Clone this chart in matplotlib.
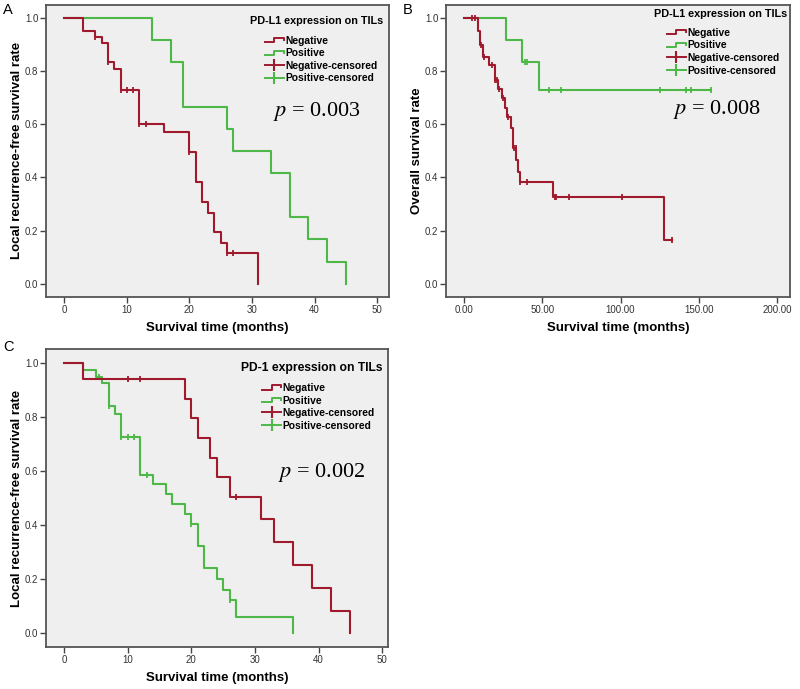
import matplotlib
matplotlib.use('Agg')
import numpy as np
import matplotlib.pyplot as plt
from matplotlib.lines import Line2D
from matplotlib.legend_handler import HandlerBase
from matplotlib.ticker import FormatStrFormatter

plt.rcParams['font.family'] = ['Liberation Sans', 'DejaVu Sans']
plt.rcParams['mathtext.fontset'] = 'stix'

RED = '#A01A2E'
GREEN = '#4DB848'
BG = '#EFEFEF'

# A: PD-L1 on TILs, local recurrence-free survival
a_neg_t = [0, 3, 5, 6, 7, 8, 9, 12, 16, 20, 21, 22, 23, 24, 25, 26, 31]
a_neg_s = [1.0, 0.952, 0.928, 0.905, 0.836, 0.808, 0.730, 0.602, 0.570, 0.497,
           0.381, 0.308, 0.268, 0.193, 0.153, 0.114, 0.0]
a_neg_c = [5, 7, 9, 10, 11, 12, 13, 20, 26, 27]
a_pos_t = [0, 14, 17, 19, 26, 27, 33, 36, 39, 42, 45]
a_pos_s = [1.0, 0.917, 0.833, 0.667, 0.583, 0.5, 0.417, 0.25, 0.167, 0.083, 0.0]
a_pos_c = []

# B: PD-L1 on TILs, overall survival
b_neg_t = [0, 9, 10, 12, 16, 19.5, 22, 24, 26.5, 27.5, 30, 31, 33.5, 34.5, 35.5, 57, 128]
b_neg_s = [1.0, 0.95, 0.90, 0.853, 0.824, 0.768, 0.734, 0.70, 0.661, 0.627, 0.586,
           0.511, 0.467, 0.422, 0.381, 0.326, 0.163]
b_neg_c = [5, 7, 11, 13, 18, 20, 21, 22.5, 25, 28, 32, 33, 36, 40, 58, 59, 67, 101, 133]
b_pos_t = [0, 27, 37, 48]
b_pos_s = [1.0, 0.917, 0.833, 0.729]
b_pos_c = [39, 40, 54, 62, 125, 142, 145, 158]

# C: PD-1 on TILs, local recurrence-free survival
c_neg_t = [0, 3, 19, 20, 21, 23, 24, 26, 31, 33, 36, 39, 42, 45]
c_neg_s = [1.0, 0.938, 0.866, 0.794, 0.722, 0.649, 0.577, 0.505, 0.421, 0.337,
           0.253, 0.168, 0.084, 0.0]
c_neg_c = [10, 12, 27]
c_pos_t = [0, 3, 5, 6, 7, 8, 9, 12, 14, 16, 17, 19, 20, 21, 22, 24, 25, 26, 27, 36]
c_pos_s = [1.0, 0.973, 0.948, 0.923, 0.838, 0.81, 0.726, 0.586, 0.551, 0.515, 0.478,
           0.44, 0.403, 0.322, 0.241, 0.202, 0.162, 0.122, 0.06, 0.0]
c_pos_c = [5.5, 7, 9, 10, 11, 13, 20, 26]

legend_labels = ['Negative', 'Positive', 'Negative-censored', 'Positive-censored']


class StepHandler(HandlerBase):
    # little step symbol like the SPSS legend
    def create_artists(self, legend, orig_handle, xdescent, ydescent, width, height, fontsize, trans):
        xs = np.array([0, 0.5, 0.5, 1.0, 1.0]) * width - xdescent
        ys = np.array([0.2, 0.2, 0.8, 0.8, 0.5]) * height - ydescent
        ln = Line2D(xs, ys, color=orig_handle.get_color(), lw=orig_handle.get_linewidth())
        ln.set_transform(trans)
        return [ln]


def km_curve(ax, t, s, cens, color):
    xs, ys = list(t), list(s)
    if cens and max(cens) > t[-1]:
        xs.append(max(cens))
        ys.append(s[-1])
    ax.plot(xs, ys, drawstyle='steps-post', color=color, lw=1.5)
    if cens:
        idx = np.searchsorted(t, cens, side='right') - 1
        cy = np.array(s)[idx]
        ax.plot(cens, cy, ls='none', marker='|', ms=5, mew=1.3, color=color)


def panel(ax, curves, xlim, xticks, xfmt, ylabel, title, title_xy, title_fs, leg_xy,
          ptext, pxy, letter, letter_xy):
    ax.set_facecolor(BG)
    for t, s, c, col in curves:
        km_curve(ax, t, s, c, col)
    ax.set_xlim(*xlim)
    ax.set_ylim(-0.05, 1.05)
    ax.set_xticks(xticks)
    ax.set_yticks([0, 0.2, 0.4, 0.6, 0.8, 1.0])
    ax.xaxis.set_major_formatter(FormatStrFormatter(xfmt))
    ax.yaxis.set_major_formatter(FormatStrFormatter('%.1f'))
    ax.tick_params(direction='out', length=4, width=1, color='#444',
                   labelsize=7, labelcolor='#333', pad=1.5)
    for sp in ax.spines.values():
        sp.set_color('#555')
        sp.set_linewidth(1.3)
    ax.set_xlabel('Survival time (months)', fontsize=9.5, fontweight='bold', labelpad=5)
    ax.set_ylabel(ylabel, fontsize=9.5, fontweight='bold', labelpad=1)

    h_neg = Line2D([], [], color=RED, lw=1.4)
    h_pos = Line2D([], [], color=GREEN, lw=1.4)
    h_nc = Line2D([], [], color=RED, lw=1.4, marker='|', ms=8, mew=1.5)
    h_pc = Line2D([], [], color=GREEN, lw=1.4, marker='|', ms=8, mew=1.5)
    ax.text(title_xy[0], title_xy[1], title, transform=ax.transAxes, ha='center',
            va='center', fontsize=title_fs, fontweight='bold')
    ax.legend([h_neg, h_pos, h_nc, h_pc], legend_labels, loc='upper left',
              bbox_to_anchor=leg_xy, frameon=False, borderpad=0, borderaxespad=0,
              handlelength=1.85, handletextpad=0.1, labelspacing=0.25,
              prop={'size': 7.4, 'weight': 'bold'},
              handler_map={h_neg: StepHandler(), h_pos: StepHandler()})
    ax.text(pxy[0], pxy[1], ptext, fontsize=16, family='Liberation Serif',
            ha='left', va='center')
    ax.figure.text(letter_xy[0], letter_xy[1], letter, fontsize=10.5, ha='left', va='top')


fig = plt.figure(figsize=(8, 6.89), dpi=100)
ax_a = fig.add_axes([0.0575, 0.569, 0.429, 0.424])
ax_b = fig.add_axes([0.5575, 0.569, 0.430, 0.424])
ax_c = fig.add_axes([0.0575, 0.061, 0.4275, 0.4325])

panel(ax_a, [(a_pos_t, a_pos_s, a_pos_c, GREEN), (a_neg_t, a_neg_s, a_neg_c, RED)],
      (-2.9, 51.9), [0, 10, 20, 30, 40, 50], '%d',
      'Local recurrence-free survival rate', 'PD-L1 expression on TILs',
      (0.789, 0.945), 7.8, (0.638, 0.894), r'$p$ = 0.003', (33.4, 0.647),
      'A', (0.004, 0.995))
panel(ax_b, [(b_pos_t, b_pos_s, b_pos_c, GREEN), (b_neg_t, b_neg_s, b_neg_c, RED)],
      (-11.5, 208.3), [0, 50, 100, 150, 200], '%.2f',
      'Overall survival rate', 'PD-L1 expression on TILs',
      (0.797, 0.969), 7.8, (0.642, 0.921), r'$p$ = 0.008', (133.5, 0.654),
      'B', (0.504, 0.995))
panel(ax_c, [(c_pos_t, c_pos_s, c_pos_c, GREEN), (c_neg_t, c_neg_s, c_neg_c, RED)],
      (-2.85, 50.9), [0, 10, 20, 30, 40, 50], '%d',
      'Local recurrence-free survival rate', 'PD-1 expression on TILs',
      (0.777, 0.936), 8.7, (0.632, 0.886), r'$p$ = 0.002', (33.6, 0.593),
      'C', (0.004, 0.507))

fig.savefig('out.png', dpi=100, facecolor='white')
